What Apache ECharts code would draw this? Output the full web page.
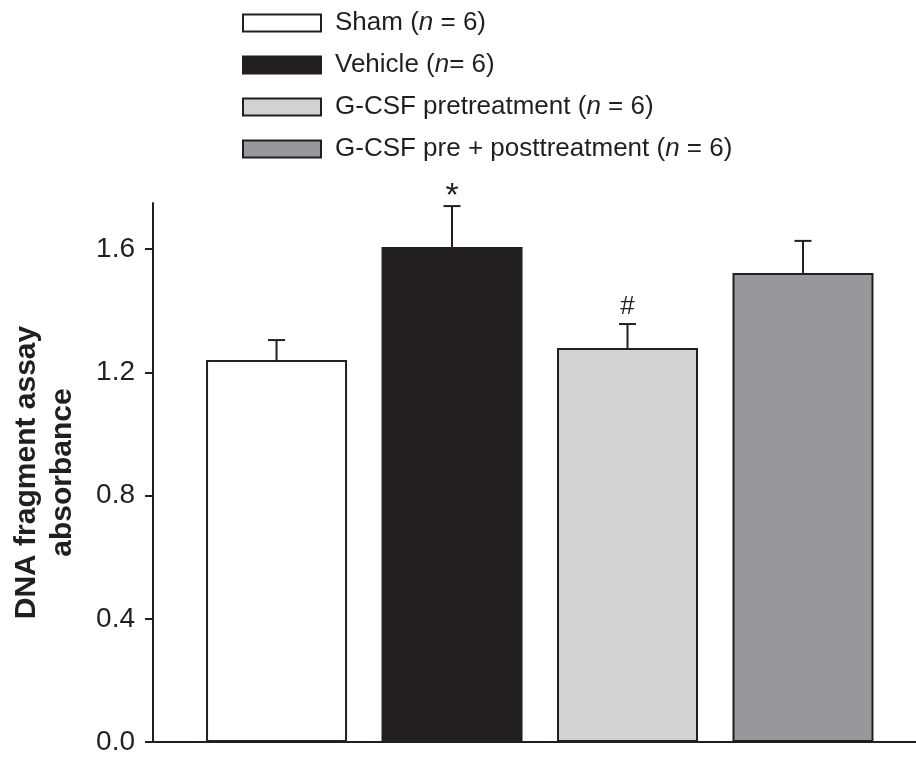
<!DOCTYPE html>
<html>
<head>
<meta charset="utf-8">
<script src="https://cdn.jsdelivr.net/npm/echarts@6/dist/echarts.min.js"></script>
<style>
  html, body { margin: 0; padding: 0; background: #fff; }
  #chart { width: 916px; height: 758px; }
</style>
</head>
<body>
<div id="chart"></div>
<script>
// data
const groups = ['Sham (n = 6)', 'Vehicle (n= 6)', 'G-CSF pretreatment (n = 6)', 'G-CSF pre + posttreatment (n = 6)']
const means = [1.240, 1.607, 1.279, 1.523]
const errors = [0.065, 0.133, 0.078, 0.104]
const signs = ['', '*', '#', '']
const colors = ['#ffffff', '#231f20', '#d1d2d4', '#97989b']
const yTicks = [0, 0.4, 0.8, 1.2, 1.6]

const font = 'Liberation Sans, Arial, sans-serif'
const edge = '#231f20'

const chart = echarts.init(document.getElementById('chart'))

// one bar series per group so each gets a legend entry
const barSeries = groups.map((name, i) => ({
  name: name,
  type: 'bar',
  barWidth: 141,
  barGap: '-100%',
  data: [[i + 1, means[i]]],
  itemStyle: { color: colors[i], borderColor: edge, borderWidth: 2 },
  z: 2
}))

// error bars and significance marks
const errSeries = {
  type: 'custom',
  z: 3,
  data: means.map((m, i) => [i + 1, m, errors[i]]),
  renderItem(params, api) {
    const x = api.value(0), m = api.value(1), e = api.value(2)
    const base = api.coord([x, m])
    const top = api.coord([x, m + e])
    const sign = signs[params.dataIndex]
    const style = { stroke: edge, lineWidth: 2 }
    const children = [
      { type: 'line', shape: { x1: base[0], y1: base[1], x2: top[0], y2: top[1] }, style },
      { type: 'line', shape: { x1: top[0] - 8.5, y1: top[1], x2: top[0] + 8.5, y2: top[1] }, style }
    ]
    if (sign === '*') {
      children.push({
        type: 'text',
        style: { text: sign, x: top[0], y: top[1] + 8, fill: edge, font: '34px ' + font, align: 'center', verticalAlign: 'bottom' }
      })
    } else if (sign) {
      children.push({
        type: 'text',
        style: { text: sign, x: top[0], y: top[1] - 4, fill: edge, font: '26px ' + font, align: 'center', verticalAlign: 'bottom' }
      })
    }
    return { type: 'group', children }
  }
}

const option = {
  animation: false,
  textStyle: { fontFamily: font },
  legend: {
    orient: 'vertical',
    left: 237,
    top: 4,
    itemWidth: 78,
    itemHeight: 17,
    itemGap: 14,
    icon: 'rect',
    selectedMode: false,
    data: groups,
    itemStyle: { borderColor: edge, borderWidth: 2 },
    formatter: name => name.replace('(n', '({i|n}'),
    textStyle: {
      fontSize: 26, color: edge, lineHeight: 28, padding: [0, 0, 0, 9],
      rich: { i: { fontSize: 26, fontStyle: 'italic', color: edge } }
    }
  },
  grid: { left: 153, right: 0, top: 203, bottom: 16, outerBoundsMode: 'none', containLabel: false },
  xAxis: {
    type: 'value',
    min: 0.296,
    max: 4.644,
    axisLine: { show: true, onZero: false, lineStyle: { color: edge, width: 2 } },
    axisTick: { show: false },
    axisLabel: { show: false },
    splitLine: { show: false }
  },
  yAxis: {
    type: 'value',
    min: 0,
    max: 1.75,
    name: 'DNA fragment assay\nabsorbance',
    nameLocation: 'middle',
    nameGap: 72,
    nameTextStyle: { fontSize: 30, fontWeight: 'bold', color: edge, lineHeight: 36 },
    axisLine: { show: true, lineStyle: { color: edge, width: 2 } },
    axisTick: { show: true, length: 8, lineStyle: { color: edge, width: 2 }, customValues: yTicks },
    axisLabel: {
      fontSize: 28, color: edge, margin: 18,
      customValues: yTicks,
      formatter: v => v.toFixed(1)
    },
    splitLine: { show: false }
  },
  series: [...barSeries, errSeries]
}

chart.setOption(option)
</script>
</body>
</html>
